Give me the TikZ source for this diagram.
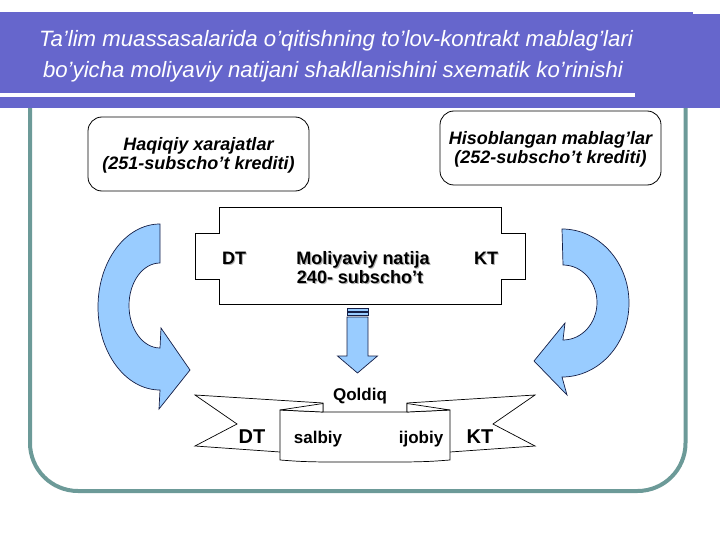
\documentclass[tikz,border=0pt]{standalone}
\usepackage{fontspec}
\setmainfont{Liberation Sans}
\definecolor{bandc}{RGB}{102,102,204}
\definecolor{framec}{RGB}{108,154,152}
\definecolor{arrowc}{RGB}{153,204,255}
\definecolor{arrowline}{RGB}{20,30,70}
\definecolor{shadowc}{RGB}{175,175,175}
\begin{document}
\begin{tikzpicture}[x=1pt,y=-1pt,
  titletext/.style={anchor=base,text=white,inner sep=0pt,font=\fontsize{22.2}{24}\selectfont\itshape},
  boxshape/.style={draw=black,line width=0.8pt,rounded corners=14pt,fill=white,inner sep=0pt},
  boxtext/.style={anchor=base,inner sep=0pt,font=\fontsize{18}{20}\selectfont\bfseries\itshape},
  midtext/.style={anchor=base,inner sep=0pt,font=\fontsize{18}{20}\selectfont\bfseries},
  midshadow/.style={midtext,text=shadowc},
  lowtext/.style={anchor=base,inner sep=0pt,font=\fontsize{17}{20}\selectfont\bfseries},
  bigtext/.style={anchor=base,inner sep=0pt,font=\fontsize{20}{22}\selectfont\bfseries},
  bluearrow/.style={fill=arrowc,draw=arrowline,line width=0.7pt,line join=miter},
  outline/.style={draw=black,line width=0.7pt,fill=white}]
\useasboundingbox (0,0) rectangle (720,540);
% frame
\draw[framec,line width=4pt,rounded corners=48pt] (30,60) rectangle (685.5,491);
% title band
\fill[bandc] (0,12) rectangle (693,108);
\fill[bandc] (693,14) rectangle (720,108);
\fill[white] (0,93.3) rectangle (635,97.3);
\node[titletext] (title1) at (336,47) {Ta’lim muassasalarida o’qitishning to’lov-kontrakt mablag’lari};
\node[titletext] (title2) at (333,78) {bo’yicha moliyaviy natijani shakllanishini sxematik ko’rinishi};
% top boxes
\node[boxshape,minimum width=221pt,minimum height=74pt] (box1) at (198.5,154) {};
\node[boxtext] (box1a) at (198.5,151) {Haqiqiy xarajatlar};
\node[boxtext] (box1b) at (198.5,170) {(251-subscho’t krediti)};
\node[boxshape,minimum width=221pt,minimum height=74pt] (box2) at (550.5,148) {};
\node[boxtext] (box2a) at (550.5,145) {Hisoblangan mablag’lar};
\node[boxtext] (box2b) at (550.5,164) {(252-subscho’t krediti)};
% central cross shape
\draw[outline] (219,207) -- (501,207) -- (501,233) -- (525,233) -- (525,279) -- (501,279) -- (501,304) -- (219,304) -- (219,279) -- (195,279) -- (195,233) -- (219,233) -- cycle;
\node[midshadow] (dts) at (235.2,265.2) {DT};
\node[midshadow] (mns) at (364.2,265.2) {Moliyaviy natija};
\node[midshadow] (sss) at (361.2,284.2) {240- subscho’t};
\node[midshadow] (kts) at (487.2,265.2) {KT};
\node[midtext] (dt1) at (234,264) {DT};
\node[midtext] (mn) at (363,264) {Moliyaviy natija};
\node[midtext] (ss) at (360,283) {240- subscho’t};
\node[midtext] (kt1) at (486,264) {KT};
% curved arrows
\draw[bluearrow] (160,224) arc[start angle=270,end angle=90,x radius=62,y radius=83]
  -- (159,409) -- (190,370) -- (161,328) -- (160,348)
  arc[start angle=90,end angle=270,x radius=31,y radius=42.5] -- cycle;
\draw[bluearrow] (562,229) arc[start angle=270,end angle=450,x radius=67,y radius=74]
  -- (567,395) -- (534,361) -- (565,323) -- (563,340)
  arc[start angle=90,end angle=-90,x radius=34,y radius=37.5] -- cycle;
% down arrow
\draw[bluearrow,line width=0.5pt] (347,308.5) rectangle (368,311);
\draw[bluearrow,line width=0.5pt] (347,312.5) rectangle (368,315);
\draw[bluearrow] (347,317) -- (368,317) -- (368,356) -- (377.5,356) -- (357.5,373) -- (337.5,356) -- (347,356) -- cycle;
\node[lowtext] (qoldiq) at (360,400) {Qoldiq};
% ribbon
\draw[outline] (195,395) -- (323,403) -- (323,455) -- (280,452) -- (195,446) -- (237,424) -- cycle;
\draw[outline] (535,395) -- (407,403) -- (407,455) -- (450,452) -- (535,446) -- (493,424) -- cycle;
\draw[outline] (280,410) .. controls (300,411) .. (323,412) -- (407,412) .. controls (430,411) .. (450,410)
  -- (450,460) .. controls (430,461.5) .. (407,462) -- (323,462) .. controls (300,461.5) .. (280,460) -- cycle;
\draw[outline] (280,410) -- (323,403.5) -- (323,412) -- cycle;
\draw[outline] (450,410) -- (407,403.5) -- (407,412) -- cycle;
\node[bigtext] (dt2) at (252,443) {DT};
\node[lowtext] (salbiy) at (318,443) {salbiy};
\node[lowtext] (ijobiy) at (421,443) {ijobiy};
\node[bigtext] (kt2) at (480,443) {KT};
\end{tikzpicture}
\end{document}
